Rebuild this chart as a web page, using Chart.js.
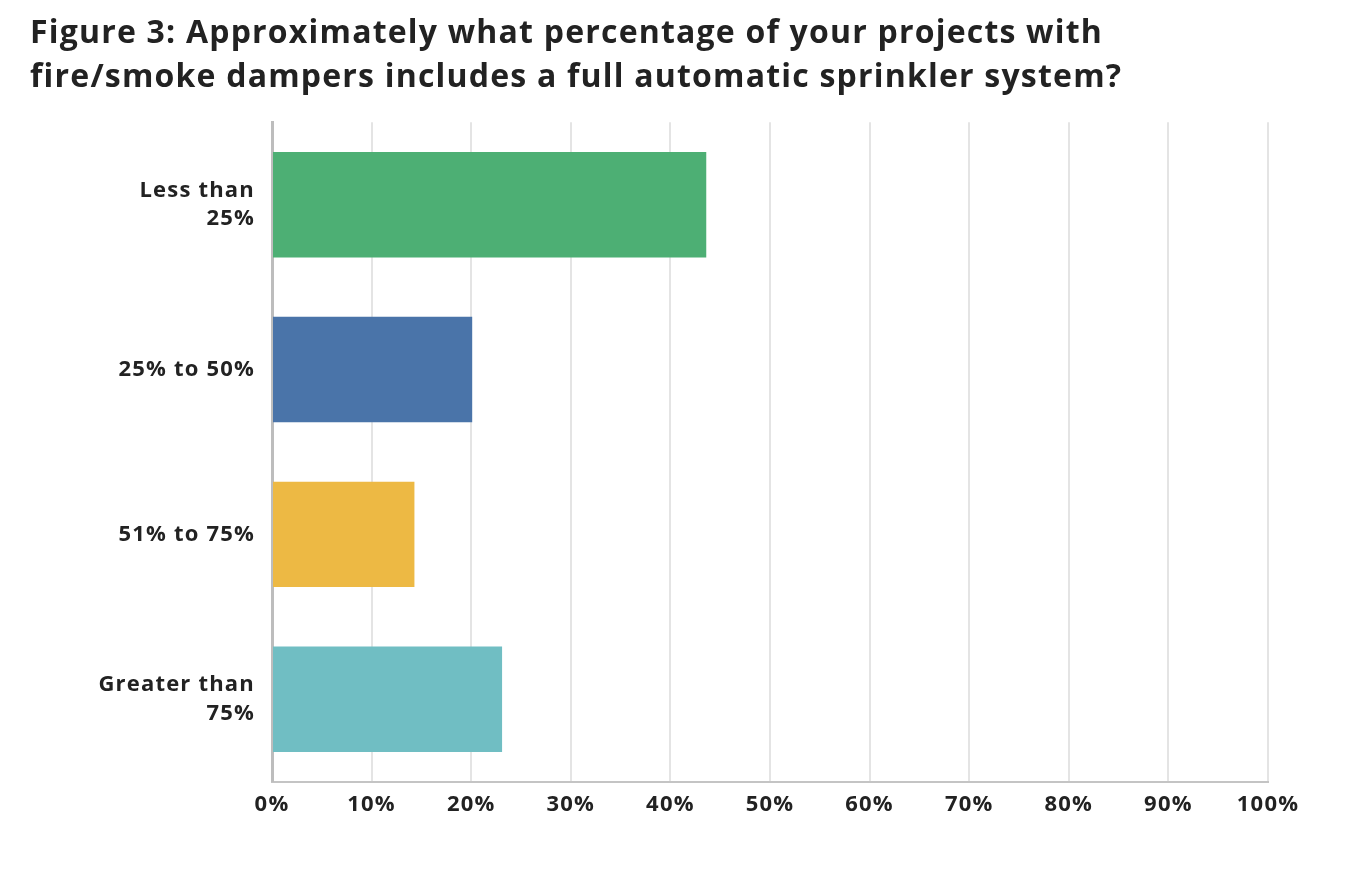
<!DOCTYPE html>
<html>
<head>
<meta charset="utf-8">
<script src="https://cdn.jsdelivr.net/npm/chart.js@4/dist/chart.umd.min.js"></script>
<style>
  html, body { margin: 0; padding: 0; background: #fff; }
  #wrap { width: 1364px; height: 886px; }
</style>
</head>
<body>
<div id="wrap"><canvas id="chart"></canvas></div>
<script>
// data
const categories = [["Less than", "25%"], "25% to 50%", "51% to 75%", ["Greater than", "75%"]];
const shares = [43.6, 20.1, 14.3, 23.1];
const barColors = ["#4daf74", "#4a74a9", "#edb944", "#70bec3"];
const titleLines = [
  "Figure 3: Approximately what percentage of your projects with",
  "fire/smoke dampers includes a full automatic sprinkler system?"
];

const FONT = "'Open Sans', sans-serif";
const INK = "#222222";

// the original uses a wide, loosely tracked face; widen Open Sans a bit
const tracking = {
  id: "tracking",
  beforeUpdate(chart) { chart.ctx.letterSpacing = "1.2px"; },
  beforeDraw(chart) { chart.ctx.letterSpacing = "1.2px"; }
};

new Chart(document.getElementById("chart"), {
  type: "bar",
  data: {
    labels: categories,
    datasets: [{
      data: shares,
      backgroundColor: barColors,
      borderWidth: 0,
      categoryPercentage: 1,
      barPercentage: 0.64
    }]
  },
  options: {
    indexAxis: "y",
    responsive: true,
    maintainAspectRatio: false,
    animation: false,
    layout: { padding: { left: 30, right: 96, top: 12, bottom: 58 } },
    plugins: {
      legend: { display: false },
      tooltip: { enabled: false },
      title: {
        display: true,
        text: titleLines,
        align: "start",
        color: INK,
        font: { family: FONT, size: 32, weight: "bold", lineHeight: 1.38 },
        padding: { top: 0, bottom: 22 }
      }
    },
    scales: {
      x: {
        min: 0,
        max: 100,
        ticks: {
          stepSize: 10,
          color: INK,
          padding: 10,
          font: { family: FONT, size: 22, weight: "bold" },
          callback: v => v + "%"
        },
        grid: { color: "#e4e4e4", lineWidth: 2, drawTicks: false },
        border: { color: "#c4c4c4", width: 2 }
      },
      y: {
        ticks: {
          color: INK,
          padding: 9,
          font: { family: FONT, size: 22, weight: "bold", lineHeight: 1.3 }
        },
        grid: { display: false },
        border: { color: "#bdbdbd", width: 3 },
        afterFit: scale => { scale.width = 242; }
      }
    }
  },
  plugins: [tracking]
});
</script>
</body>
</html>
